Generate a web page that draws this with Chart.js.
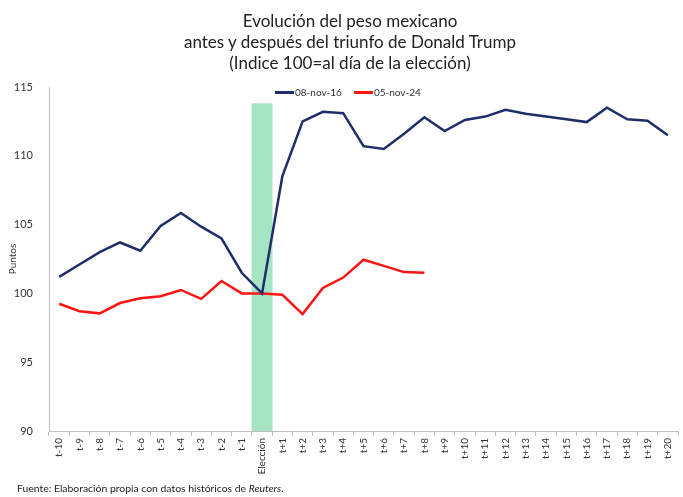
<!DOCTYPE html>
<html>
<head>
<meta charset="utf-8">
<script src="https://cdn.jsdelivr.net/npm/chart.js@4"></script>
<style>
  body { margin: 0; background: #fff; font-family: Lato, "Open Sans", sans-serif; }
  #wrap { position: relative; width: 683px; height: 497px; }
  #titulo { position: absolute; left: 100px; top: 10px; width: 500px; text-align: center;
            font-size: 17px; line-height: 21px; color: #222; }
  #leyenda { position: absolute; left: 275px; top: 86px; font-size: 10px; color: #333; white-space: nowrap; }
  #leyenda span.item { display: inline-block; margin-right: 12px; }
  #leyenda span.linea { display: inline-block; width: 19px; height: 2.5px; vertical-align: middle; margin-right: 1px; position: relative; top: -1px; }
  #fuente { position: absolute; left: 17px; top: 482px; font-size: 10.4px; color: #222; }
</style>
</head>
<body>
<div id="wrap">
  <canvas id="grafica"></canvas>
  <div id="titulo">Evolución del peso mexicano<br>antes y después del triunfo de Donald Trump<br>(Indice 100=al día de la elección)</div>
  <div id="leyenda">
    <span class="item"><span class="linea" style="background:#1f2d6b"></span>08-nov-16</span><span class="item"><span class="linea" style="background:#ff1414"></span>05-nov-24</span>
  </div>
  <div id="fuente">Fuente: Elaboración propia con datos históricos de <i>Reuters</i>.</div>
</div>
<script>
const etiquetas = ['t-10', 't-9', 't-8', 't-7', 't-6', 't-5', 't-4', 't-3', 't-2', 't-1', 'Elección',
  't+1', 't+2', 't+3', 't+4', 't+5', 't+6', 't+7', 't+8', 't+9', 't+10',
  't+11', 't+12', 't+13', 't+14', 't+15', 't+16', 't+17', 't+18', 't+19', 't+20'];

const nov16 = [101.2, 102.1, 103.0, 103.7, 103.1, 104.9, 105.85, 104.85, 104.0, 101.5, 100,
  108.5, 112.5, 113.2, 113.1, 110.7, 110.5, 111.6, 112.8, 111.8, 112.6,
  112.85, 113.35, 113.05, 112.85, 112.65, 112.45, 113.5, 112.65, 112.55, 111.5];

const nov24 = [99.25, 98.7, 98.55, 99.3, 99.65, 99.8, 100.25, 99.6, 100.9, 100.0, 100,
  99.9, 98.5, 100.4, 101.15, 102.45, 102.0, 101.55, 101.5];

const franja = [90, 113.8];   // barra verde de la elección
const ticksY = [90, 95, 100, 105, 110, 115];

const grafica = document.getElementById('grafica');

new Chart(grafica, {
  type: 'line',
  data: {
    labels: etiquetas,
    datasets: [{
      label: '08-nov-16',
      data: nov16,
      borderColor: '#1f2d6b',
      backgroundColor: '#1f2d6b',
      borderWidth: 2.5,
      pointRadius: 0,
      tension: 0,
      order: 0
    }, {
      label: '05-nov-24',
      data: nov24,
      borderColor: '#ff1414',
      backgroundColor: '#ff1414',
      borderWidth: 2.5,
      pointRadius: 0,
      tension: 0,
      order: 1
    }, {
      type: 'bar',
      label: 'Elección',
      data: etiquetas.map(e => e === 'Elección' ? franja : null),
      backgroundColor: 'rgba(150, 224, 184, 0.85)',
      barPercentage: 1,
      categoryPercentage: 1,
      order: 5
    }]
  },
  options: {
    responsive: true,
    maintainAspectRatio: false,
    animation: false,
    layout: {
      padding: { top: 87, right: 5, left: 0, bottom: 0 }
    },
    plugins: {
      legend: { display: false },
      tooltip: { enabled: false }
    },
    scales: {
      x: {
        offset: true,
        grid: {
          offset: true,
          drawOnChartArea: false,
          drawTicks: true,
          tickLength: 5,
          color: '#bfbfbf'
        },
        border: { color: '#bfbfbf' },
        ticks: {
          autoSkip: false,
          maxRotation: 90,
          minRotation: 90,
          padding: 2,
          color: '#333',
          font: { family: 'Lato', size: 10 }
        },
        afterFit: function(scale) { scale.height = 66; }
      },
      y: {
        min: 90,
        max: 115,
        afterBuildTicks: function(scale) { scale.ticks = ticksY.map(v => ({ value: v })); },
        grid: { display: false },
        border: { color: '#bfbfbf' },
        ticks: {
          padding: 8,
          color: '#333',
          font: { family: 'Lato', size: 11 }
        },
        title: {
          display: true,
          text: 'Puntos',
          color: '#333',
          padding: { top: 7, bottom: 0 },
          font: { family: 'Lato', size: 10 }
        },
        afterFit: function(scale) { scale.width = 49; }
      }
    }
  }
});
</script>
</body>
</html>
